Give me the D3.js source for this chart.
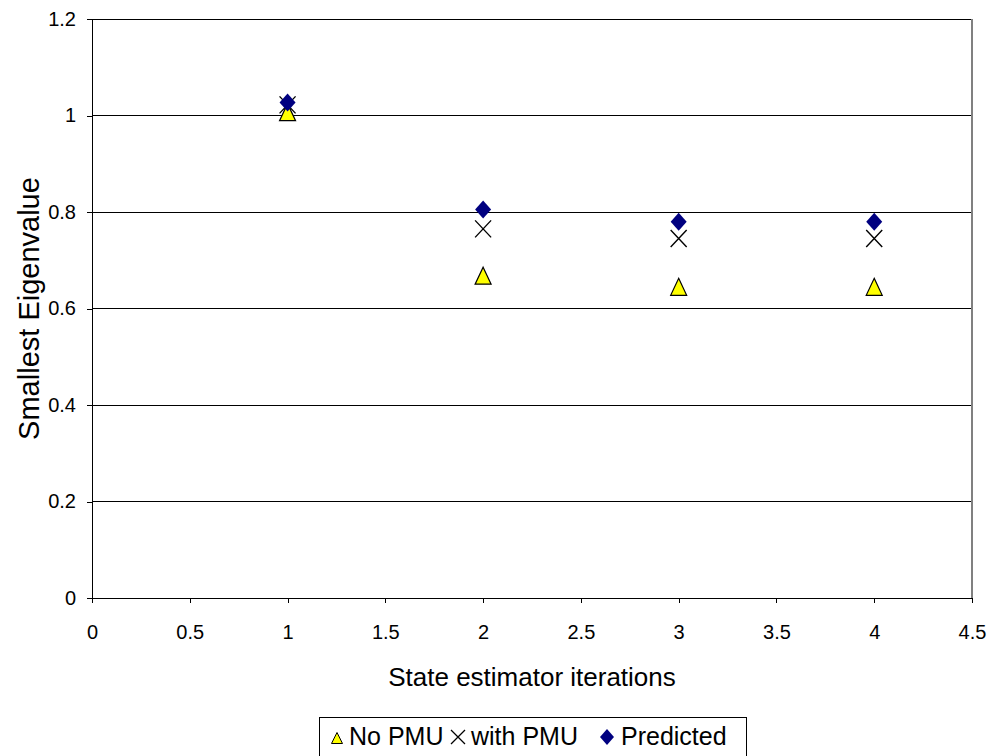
<!DOCTYPE html>
<html><head><meta charset="utf-8">
<script src="https://cdn.jsdelivr.net/npm/d3@7"></script>
<style>body{margin:0;background:#fff}text{font-family:"Liberation Sans",Arial,sans-serif}</style>
</head><body>
<svg id="c" width="989" height="756"></svg>
<script>
const xTicks = [0,0.5,1,1.5,2,2.5,3,3.5,4,4.5];
const yTicks = [0,0.2,0.4,0.6,0.8,1,1.2];
const iterations = [1,2,3,4];
const noPMU = [1.007,0.668,0.645,0.645];
const withPMU = [1.022,0.765,0.745,0.745];
const predicted = [1.027,0.805,0.780,0.780];
const legendLabels = ["No PMU","with PMU","Predicted"];

const svg = d3.select("#c");
const L=92, R=972, T=19, B=598;
const x = d3.scaleLinear().domain([0,4.5]).range([L,R]);
const y = d3.scaleLinear().domain([0,1.2]).range([B,T]);

svg.append("g").selectAll("line").data(yTicks.filter(d=>d>0)).join("line")
  .attr("x1",L).attr("x2",R).attr("y1",d=>y(d)).attr("y2",d=>y(d))
  .attr("stroke","#000").attr("stroke-width",1).attr("shape-rendering","crispEdges");
svg.append("line").attr("x1",R).attr("x2",R).attr("y1",T).attr("y2",B)
  .attr("stroke","#808080").attr("stroke-width",2).attr("shape-rendering","crispEdges");

const fmt = d=>String(d);
const ya = svg.append("g").attr("transform",`translate(${L},0)`)
  .call(d3.axisLeft(y).tickValues(yTicks).tickFormat(fmt).tickSize(5).tickPadding(11));
const xa = svg.append("g").attr("transform",`translate(0,${B})`)
  .call(d3.axisBottom(x).tickValues(xTicks).tickFormat(fmt).tickSize(5).tickPadding(22));
[ya,xa].forEach(a=>{
  a.attr("font-size",null).attr("font-family",null);
  a.selectAll("path,line").attr("stroke","#000").attr("shape-rendering","crispEdges");
  a.selectAll("text").style("font-size","20px").attr("fill","#000");
});
ya.select(".domain").attr("d",`M0,${B}V${T}`);
xa.select(".domain").attr("d",`M${L},0H${R}`);

svg.append("text").attr("x",(L+R)/2).attr("y",686).attr("text-anchor","middle")
  .style("font-size","26px").text("State estimator iterations");
svg.append("text").attr("transform",`translate(39,${(T+B)/2}) rotate(-90)`).attr("text-anchor","middle")
  .style("font-size","29px").text("Smallest Eigenvalue");

const triP = (cx,cy,w,h)=>`M${cx},${cy-h/2}L${cx+w/2},${cy+h/2}L${cx-w/2},${cy+h/2}Z`;
const dia = (cx,cy,rx,ry)=>`M${cx},${cy-ry}L${cx+rx},${cy}L${cx},${cy+ry}L${cx-rx},${cy}Z`;
const cross = (cx,cy,rx,ry)=>`M${cx-rx},${cy-ry}L${cx+rx},${cy+ry}M${cx-rx},${cy+ry}L${cx+rx},${cy-ry}`;

svg.append("g").selectAll("path").data(iterations).join("path")
  .attr("d",(d,i)=>triP(x(d),y(noPMU[i]),16,17))
  .attr("fill","#ffff00").attr("stroke","#000").attr("stroke-width",1.2);
svg.append("g").selectAll("path").data(iterations).join("path")
  .attr("d",(d,i)=>cross(x(d),y(withPMU[i]),8,8.5)).attr("stroke","#000").attr("stroke-width",1.4).attr("fill","none");
svg.append("g").selectAll("path").data(iterations).join("path")
  .attr("d",(d,i)=>dia(x(d),y(predicted[i]),8,9)).attr("fill","#000080");

const lg = svg.append("g");
lg.append("rect").attr("x",319.5).attr("y",717.5).attr("width",427).attr("height",45)
  .attr("fill","#fff").attr("stroke","#000").attr("stroke-width",1);
lg.append("path").attr("d",triP(337,738,11,11))
  .attr("fill","#ffff00").attr("stroke","#000");
lg.append("text").attr("x",349).attr("y",745).style("font-size","25px").text(legendLabels[0]);
lg.append("path").attr("d",cross(458,737,7,7)).attr("stroke","#000").attr("stroke-width",1.3);
lg.append("text").attr("x",471).attr("y",745).style("font-size","25px").text(legendLabels[1]);
lg.append("path").attr("d",dia(607,737,7,8)).attr("fill","#000080");
lg.append("text").attr("x",621).attr("y",745).style("font-size","25px").text(legendLabels[2]);
</script>
</body></html>
